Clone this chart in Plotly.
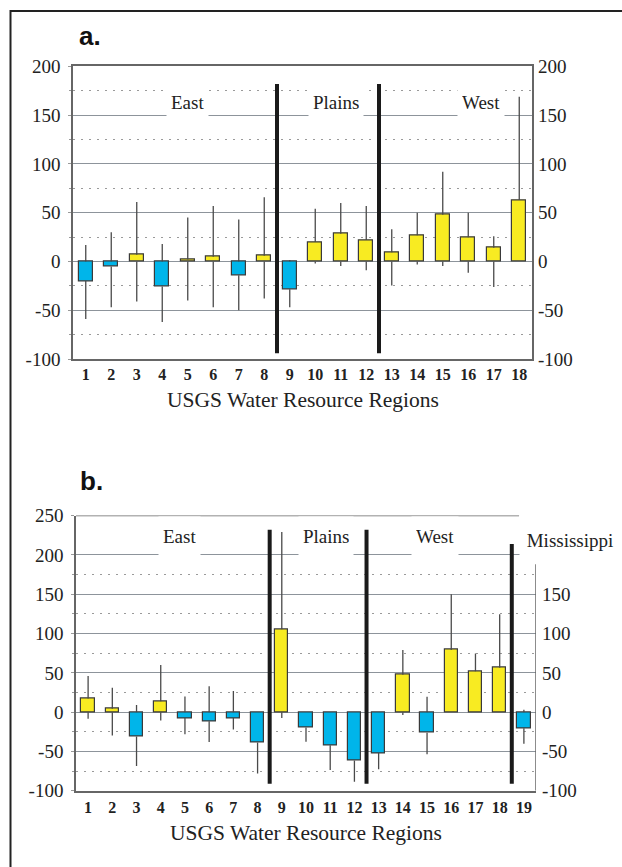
import plotly.graph_objects as go

W, H = 622, 867

# ---------------- data ----------------
a_regions = list(range(1, 19))
a_value = [-20, -5, 7, -25.5, 2, 5, -14, 6, -28.5, 20, 28.5, 22, 9.5, 27, 48, 25, 14, 63]
a_high = [17, 30, 61, 18, 45, 57, 43, 66, 1.5, 54, 60, 57, 33, 50, 92, 50, 26, 169]
a_low = [-59, -47, -41, -62, -40, -47, -50, -38, -47, -2, -4.5, -9, -24.5, -3, -4.5, -11.5, -26, 0]

b_regions = list(range(1, 20))
b_value = [17.5, 4.5, -31, 14, -7.5, -11.5, -7.5, -38.5, 105.5, -19.5, -42, -61.5, -52,
           47.5, -26, 79, 52, 56.5, -20.5]
b_high = [46, 31, 9, 60, 20, 33, 27, 0, 229, 0, 0, 0, 0, 79, 19.5, 150, 74.5, 124.5, 3]
b_low = [-8.5, -29.5, -68.5, -10.5, -28, -38, -22, -78, -7.5, -37.5, -73.5, -88.5, -72.5,
         -3.5, -53.5, 0, 0, 0, -40]

a_groups = ["East", "Plains", "West"]
a_group_x = [5.0, 10.8, 16.5]
a_dividers = [8.5, 12.5]

b_groups = ["East", "Plains", "West"]
b_group_x = [4.76, 10.81, 15.33]
b_dividers = [8.5, 12.5, 18.5]
b_divider_top = [232, 232, 214]

a_yticks = [-100, -50, 0, 50, 100, 150, 200]
b_yticks_left = [-100, -50, 0, 50, 100, 150, 200, 250]
b_yticks_right = [-100, -50, 0, 50, 100, 150]

x_title = "USGS Water Resource Regions"

# ---------------- style ----------------
YELLOW = "#F8EB22"
BLUE = "#00B5EA"
EDGE = "#3a3a3a"
WHISK = "#4a4a4a"
GRID = "#8d949b"
DOT = "#9a9a9a"
AXIS = "#666666"
TXT = "#222222"
SERIF = "Liberation Serif"
SANS = "Liberation Sans"


def px(x):
    return x / W


def py(y_target):
    # vertical placement (compensates the slight vertical squeeze seen in the capture)
    y = (y_target - 9.5) / 0.977
    return 1 - y / H


def whiskers(cats, vals, lows, highs):
    xs, ys = [], []
    for c, v, lo, hi in zip(cats, vals, lows, highs):
        top, bot = max(v, 0), min(v, 0)
        if hi > top:
            xs += [c, c, None]
            ys += [top, hi, None]
        if lo < bot:
            xs += [c, c, None]
            ys += [lo, bot, None]
    return xs, ys


fig = go.Figure()

# panel a
wx, wy = whiskers(a_regions, a_value, a_low, a_high)
fig.add_trace(go.Scatter(x=wx, y=wy, mode="lines", line=dict(color=WHISK, width=1.3),
                         xaxis="x", yaxis="y", showlegend=False, hoverinfo="skip"))
fig.add_trace(go.Bar(x=a_regions, y=a_value, width=0.56,
                     marker=dict(color=[YELLOW if v >= 0 else BLUE for v in a_value],
                                 line=dict(color=EDGE, width=1.2)),
                     xaxis="x", yaxis="y", showlegend=False))
fig.add_trace(go.Scatter(x=[1], y=[0], mode="markers", marker=dict(opacity=0),
                         xaxis="x", yaxis="y3", showlegend=False, hoverinfo="skip"))

# panel b
wx, wy = whiskers(b_regions, b_value, b_low, b_high)
fig.add_trace(go.Scatter(x=wx, y=wy, mode="lines", line=dict(color=WHISK, width=1.3),
                         xaxis="x2", yaxis="y2", showlegend=False, hoverinfo="skip"))
fig.add_trace(go.Bar(x=b_regions, y=b_value, width=0.55,
                     marker=dict(color=[YELLOW if v >= 0 else BLUE for v in b_value],
                                 line=dict(color=EDGE, width=1.2)),
                     xaxis="x2", yaxis="y2", showlegend=False))
fig.add_trace(go.Scatter(x=[1], y=[0], mode="markers", marker=dict(opacity=0),
                         xaxis="x2", yaxis="y4", showlegend=False, hoverinfo="skip"))

tickfont_y = dict(family=SERIF, size=19, color=TXT)
tickfont_x = dict(family=SERIF, size=16, color=TXT, weight="bold")


def minor(vals, grid=True):
    return dict(tickvals=vals, showgrid=grid, gridcolor=DOT, gridwidth=1, griddash="2px,6px",
                ticks="outside", ticklen=2, tickcolor="#999999")


fig.update_layout(
    width=W, height=H, autosize=False,
    margin=dict(l=0, r=0, t=0, b=0),
    paper_bgcolor="white", plot_bgcolor="white",
    bargap=0,
    xaxis=dict(domain=[px(73), px(532)], anchor="y", range=[0.5, 18.5],
               tickvals=a_regions, ticktext=[str(r) for r in a_regions],
               tickfont=tickfont_x, ticks="", ticklabelstandoff=0,
               showgrid=False, zeroline=False, showline=True, mirror=True,
               linecolor=AXIS, linewidth=1.5),
    yaxis=dict(domain=[py(359), py(66)], anchor="x", range=[-100, 200],
               tickvals=a_yticks, ticktext=[str(v) for v in a_yticks],
               tickfont=tickfont_y, ticks="outside", ticklen=3, tickcolor="#999999",
               ticklabelstandoff=4,
               showgrid=True, gridcolor=GRID, gridwidth=1, zeroline=False,
               showline=True, mirror=True, linecolor=AXIS, linewidth=1.5,
               minor=minor([-75, -25, 25, 75, 125, 175])),
    yaxis3=dict(overlaying="y", side="right", anchor="x", range=[-100, 200],
                tickvals=a_yticks, ticktext=[str(v) for v in a_yticks],
                tickfont=tickfont_y, ticks="", ticklabelstandoff=5,
                showgrid=False, zeroline=False, showline=False),
    xaxis2=dict(domain=[px(76), px(536)], anchor="y2", range=[0.5, 19.5],
                tickvals=b_regions, ticktext=[str(r) for r in b_regions],
                tickfont=tickfont_x, ticks="", ticklabelstandoff=1,
                showgrid=False, zeroline=False, showline=True, mirror=False,
                linecolor=AXIS, linewidth=1.5),
    yaxis2=dict(domain=[py(791.3), py(515.7)], anchor="x2", range=[-100, 250],
                tickvals=b_yticks_left, ticktext=[str(v) for v in b_yticks_left],
                tickfont=tickfont_y, ticks="outside", ticklen=3, tickcolor="#999999",
                ticklabelstandoff=4,
                showgrid=True, gridcolor=GRID, gridwidth=1, zeroline=False,
                showline=True, mirror=False, linecolor=AXIS, linewidth=1.5,
                minor=minor([-75, -25, 25, 75, 125, 175])),
    yaxis4=dict(overlaying="y2", side="right", anchor="x2", range=[-100, 250],
                tickvals=b_yticks_right, ticktext=[str(v) for v in b_yticks_right],
                tickfont=tickfont_y, ticks="", ticklabelstandoff=5,
                showgrid=False, zeroline=False, showline=False),
)

shapes = []
# outer frame
shapes.append(dict(type="rect", xref="paper", yref="paper",
                   x0=px(10.5), x1=px(700), y0=py(980), y1=py(10.5),
                   line=dict(color="#222222", width=2), layer="above"))
for d in a_dividers:
    shapes.append(dict(type="line", xref="x", yref="y", x0=d, x1=d, y0=-94, y1=182,
                       line=dict(color="#1a1a1a", width=4), layer="above"))
for d, t in zip(b_dividers, b_divider_top):
    shapes.append(dict(type="line", xref="x2", yref="y2", x0=d, x1=d, y0=-91, y1=t,
                       line=dict(color="#1a1a1a", width=4), layer="above"))
# panel b frame pieces (top and right)
shapes.append(dict(type="line", xref="x2", yref="y2", x0=0.5, x1=18.8, y0=250, y1=250,
                   line=dict(color=AXIS, width=1.5), layer="above"))
shapes.append(dict(type="line", xref="x2", yref="y2", x0=19.5, x1=19.5, y0=-100, y1=188,
                   line=dict(color=AXIS, width=1.5), layer="above"))
fig.update_layout(shapes=shapes)

ann = []
ann.append(dict(text="a.", xref="paper", yref="paper", x=px(77), y=py(36),
                xanchor="left", yanchor="middle", showarrow=False,
                font=dict(family=SANS, size=26, color="#111111", weight="bold")))
ann.append(dict(text="b.", xref="paper", yref="paper", x=px(78), y=py(481),
                xanchor="left", yanchor="middle", showarrow=False,
                font=dict(family=SANS, size=26, color="#111111", weight="bold")))
for g, gx in zip(a_groups, a_group_x):
    ann.append(dict(text=g, xref="x", yref="y", x=gx, y=164, showarrow=False,
                    xanchor="center", yanchor="middle", bgcolor="white", borderpad=4,
                    height=24, font=dict(family=SERIF, size=19, color=TXT)))
for g, gx in zip(b_groups, b_group_x):
    ann.append(dict(text=g, xref="x2", yref="y2", x=gx, y=223.5, showarrow=False,
                    xanchor="center", yanchor="middle", bgcolor="white", borderpad=4,
                    height=30, font=dict(family=SERIF, size=19, color=TXT)))
ann.append(dict(text="Mississippi", xref="paper", yref="paper", x=px(519), y=py(516),
                xanchor="left", yanchor="top", showarrow=False, bgcolor="white",
                borderpad=0, width=100, height=46, align="center", valign="middle",
                font=dict(family=SERIF, size=19, color=TXT)))
ann.append(dict(text=x_title, xref="paper", yref="paper", x=px(302.5), y=py(400),
                xanchor="center", yanchor="middle", showarrow=False,
                font=dict(family=SERIF, size=21.5, color=TXT)))
ann.append(dict(text=x_title, xref="paper", yref="paper", x=px(306), y=py(834),
                xanchor="center", yanchor="middle", showarrow=False,
                font=dict(family=SERIF, size=21.5, color=TXT)))
fig.update_layout(annotations=ann)

fig.write_html("out.html", config={"displayModeBar": False},
               post_script="document.body.style.margin='0';document.body.style.overflow='hidden';")
